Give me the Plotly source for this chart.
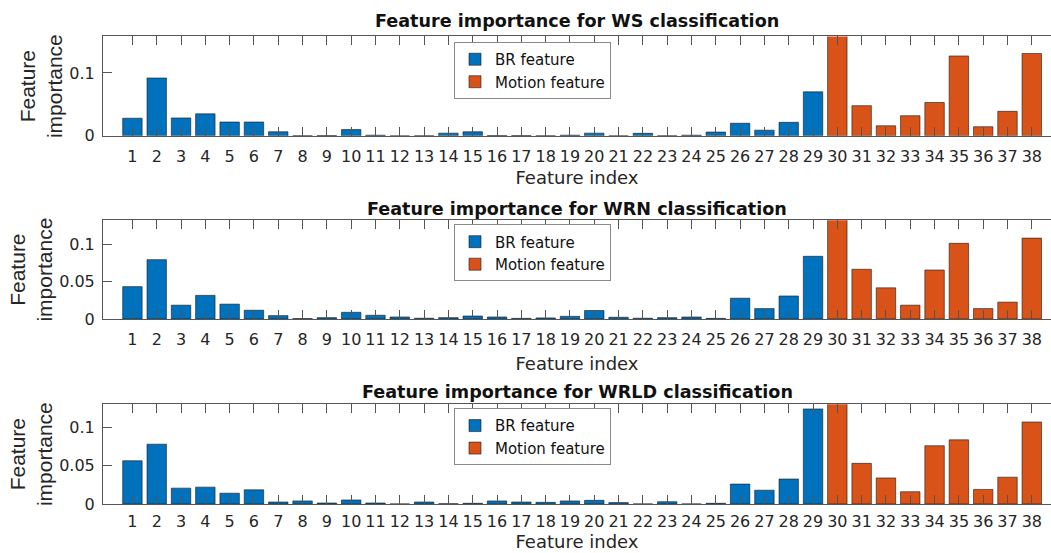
import plotly.graph_objects as go

# ---------------- data ----------------
features = list(range(1, 39))
br_idx = features[:29]
motion_idx = features[29:]
tick_labels = [str(i) for i in features]

panel_titles = [
    "Feature importance for WS classification",
    "Feature importance for WRN classification",
    "Feature importance for WRLD classification",
]

ws_br = [0.028, 0.092, 0.0285, 0.035, 0.022, 0.022, 0.0065, 0.0003, 0.0005, 0.010,
         0.001, 0.0, 0.0002, 0.0043, 0.0065, 0.0005, 0.0005, 0.0002, 0.001, 0.0043,
         0.0, 0.004, 0.0002, 0.001, 0.006, 0.020, 0.009, 0.0215, 0.070]
ws_motion = [0.175, 0.048, 0.016, 0.032, 0.053, 0.127, 0.0145, 0.039, 0.131]

wrn_br = [0.0436, 0.080, 0.0186, 0.0318, 0.020, 0.0118, 0.0045, 0.0005, 0.0018, 0.009,
          0.005, 0.0027, 0.001, 0.0018, 0.004, 0.0027, 0.0008, 0.0014, 0.0036, 0.0114,
          0.0023, 0.001, 0.0018, 0.0027, 0.0008, 0.028, 0.014, 0.031, 0.0845]
wrn_motion = [0.145, 0.067, 0.042, 0.0186, 0.066, 0.102, 0.014, 0.0227, 0.109]

wrld_br = [0.0564, 0.078, 0.0207, 0.022, 0.0141, 0.0185, 0.0026, 0.004, 0.0013, 0.0053,
           0.0013, 0.0, 0.0026, 0.0003, 0.0009, 0.004, 0.0026, 0.0022, 0.004, 0.0048,
           0.0018, 0.0, 0.003, 0.0, 0.0009, 0.026, 0.018, 0.0326, 0.124]
wrld_motion = [0.140, 0.053, 0.034, 0.016, 0.076, 0.0837, 0.019, 0.035, 0.107]

y_max = [0.158, 0.133, 0.130]
y_tickvals = [[0, 0.1], [0, 0.05, 0.1], [0, 0.05, 0.1]]
y_ticktext = [["0", "0.1"], ["0", "0.05", "0.1"], ["0", "0.05", "0.1"]]

series = [(ws_br, ws_motion), (wrn_br, wrn_motion), (wrld_br, wrld_motion)]

# ---------------- style ----------------
W, H = 1051, 553
FONT = "DejaVu Sans"
YFONT = "Liberation Sans"
BLUE = "#0072BD"
ORANGE = "#D95319"
EDGE = "#1a1a1a"
AXC = "#555555"
TXT = "#262626"

# pixel geometry (top, bottom of each axes box)
boxes = [(36.5, 135.9), (220.4, 319.1), (404.5, 504.2)]
legend_top = [42, 224.5, 408.5]
title_mid = [21.4, 208.6, 392.0]
left_px = 103
bottom_margin = H - 504.2
plot_w = W - left_px
plot_h = H - bottom_margin


def fy(y_px):
    return max(0.0, 1 - y_px / plot_h)


fig = go.Figure()

for i, (br, mo) in enumerate(series):
    sfx = "" if i == 0 else str(i + 1)
    leg = "legend" + sfx
    fig.add_trace(go.Bar(
        x=br_idx, y=br, name="BR feature", width=0.8,
        marker=dict(color=BLUE, line=dict(color=EDGE, width=0.6)),
        xaxis="x" + sfx, yaxis="y" + sfx, legend=leg,
    ))
    fig.add_trace(go.Bar(
        x=motion_idx, y=mo, name="Motion feature", width=0.8,
        marker=dict(color=ORANGE, line=dict(color=EDGE, width=0.6)),
        xaxis="x" + sfx, yaxis="y" + sfx, legend=leg,
    ))

layout = dict(
    width=W, height=H, autosize=False,
    margin=dict(l=left_px, r=0, t=0, b=bottom_margin, pad=0),
    paper_bgcolor="white", plot_bgcolor="white",
    barmode="overlay",
    font=dict(family=FONT, color=TXT, size=16),
    annotations=[],
)

x_tick_standoff = [6, 6, 3]
x_title_standoff = [6, 9, 0]
y_title_standoff = [0, 0, 0]

for i in range(3):
    sfx = "" if i == 0 else str(i + 1)
    top, bot = boxes[i]
    dom = [fy(bot), fy(top)]
    layout["xaxis" + sfx] = dict(
        domain=[0, 1], anchor="y" + sfx, range=[-0.21, 38.79],
        tickmode="array", tickvals=features, ticktext=tick_labels,
        ticks="inside", ticklen=9, tickwidth=1, tickcolor=AXC,
        showline=True, linecolor=AXC, linewidth=1, mirror="ticks",
        showgrid=False, zeroline=False, layer="above traces",
        tickfont=dict(size=16, family=FONT, color=TXT),
        ticklabelstandoff=x_tick_standoff[i],
        title=dict(text="Feature index", font=dict(size=18, family=FONT, color=TXT),
                   standoff=x_title_standoff[i]),
        automargin="width",
    )
    layout["yaxis" + sfx] = dict(
        domain=dom, anchor="x" + sfx, range=[0, y_max[i]],
        tickmode="array", tickvals=y_tickvals[i], ticktext=y_ticktext[i],
        ticks="inside", ticklen=9, tickwidth=1, tickcolor=AXC,
        showline=True, linecolor=AXC, linewidth=1, mirror=False,
        showgrid=False, zeroline=False, layer="above traces",
        tickfont=dict(size=16, family=FONT, color=TXT),
        ticklabelstandoff=4,
        title=dict(text="Feature<br>importance", font=dict(size=21, family=YFONT, color=TXT),
                   standoff=y_title_standoff[i]),
        automargin="height",
    )
    layout["legend" + sfx] = dict(
        x=(454 - left_px) / plot_w, xanchor="left",
        y=fy(legend_top[i]), yanchor="top",
        xref="paper", yref="paper",
        bgcolor="white", bordercolor="#8a8a8a", borderwidth=1,
        font=dict(size=15, family=FONT, color="#111111"),
        tracegroupgap=0, itemwidth=30,
    )
    layout["annotations"].append(dict(
        text="<b>" + panel_titles[i] + "</b>",
        x=0.5, xref="paper", xanchor="center",
        y=fy(title_mid[i]), yref="paper", yanchor="middle",
        showarrow=False, font=dict(size=17.6, family=FONT, color="#111111"),
    ))

fig.update_layout(**layout)
fig.write_html(
    "out.html",
    config={"displayModeBar": False},
    post_script="document.body.style.margin='0';document.body.style.overflow='hidden';",
)
